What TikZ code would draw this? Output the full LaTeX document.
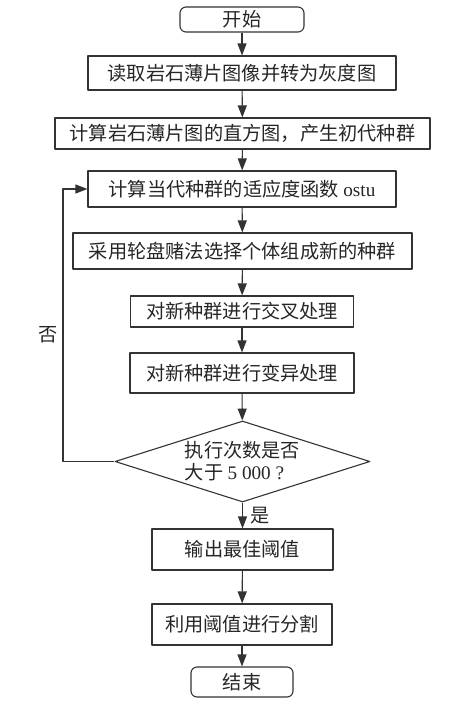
\documentclass[tikz,border=0pt]{standalone}
\usepackage{fontspec}
\setmainfont{Liberation Serif}
\newfontfamily\cjk{Noto Sans CJK SC}
\usetikzlibrary{arrows.meta,shapes.geometric}
\begin{document}
\begin{tikzpicture}[x=1pt,y=-1pt,line join=round,
	font=\fontsize{19.2}{22}\selectfont\cjk,
	>={Triangle[length=12pt,width=9pt]},
	color=black!80,line width=1.1pt,
	box/.style={draw,rectangle,inner sep=0pt,text=black!85},
	term/.style={box,rounded corners=6pt},
	decide/.style={draw,diamond,shape aspect=3.15,inner sep=0pt,align=left,text=black!85}]
		\useasboundingbox (0,0) rectangle (449,705);
		\node[term,minimum width=124pt,minimum height=25pt] (start) at (242,19.5) {开始};
		\node[box,minimum width=308pt,minimum height=34pt] (read) at (242,73) {读取岩石薄片图像并转为灰度图};
		\node[box,minimum width=375pt,minimum height=31pt] (hist) at (242.5,133.5) {计算岩石薄片图的直方图，产生初代种群};
		\node[box,minimum width=308pt,minimum height=36pt] (fit) at (242,189) {计算当代种群的适应度函数 {\rmfamily ostu}};
		\node[box,minimum width=339pt,minimum height=36pt] (sel) at (242.5,251) {采用轮盘赌法选择个体组成新的种群};
		\node[box,minimum width=223pt,minimum height=31pt] (cross) at (242,311.5) {对新种群进行交叉处理};
		\node[box,minimum width=224pt,minimum height=40pt] (mut) at (242,373) {对新种群进行变异处理};
		\node[decide,minimum width=255pt,minimum height=81pt] (dec) at (242.5,461.5) {执行次数是否\\大于 {\rmfamily 5 000 ?}};
		\node[box,minimum width=181pt,minimum height=41pt] (best) at (242.5,549.5) {输出最佳阈值};
		\node[box,minimum width=180pt,minimum height=41pt] (seg) at (242,624.5) {利用阈值进行分割};
		\node[term,minimum width=102pt,minimum height=30pt] (stop) at (242,682) {结束};
		% main flow
		\draw[->] (start) -- (read);
		\draw[->] (read) -- (hist);
		\draw[->] (hist) -- (fit);
		\draw[->] (fit) -- (sel);
		\draw[->] (sel) -- (cross);
		\draw[->] (cross) -- (mut);
		\draw[->] (mut) -- (dec);
		\draw[->] (dec) -- node[right,xshift=4pt,text=black!85] (yes) {是} (best);
		\draw[->] (best) -- (seg);
		\draw[->] (seg) -- (stop);
		% loop back
		\coordinate (back) at (63,461.5);
		\draw[->] (dec.west) -- (back) |- (fit.west);
		\node[text=black!85] (no) at (48,335) {否};
\end{tikzpicture}
\end{document}
